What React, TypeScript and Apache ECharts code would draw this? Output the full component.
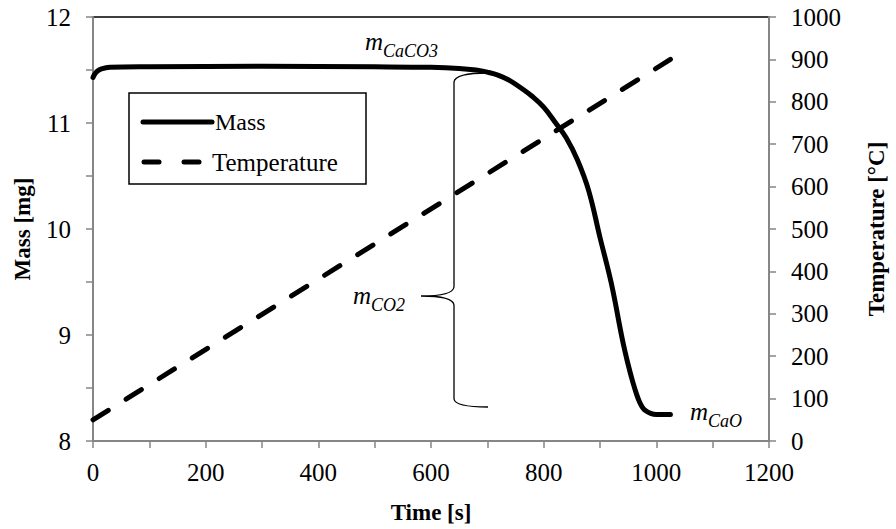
import React, { useEffect, useRef } from "react";
import * as echarts from "echarts";

// Mass curve (time in s, mass in mg)
const massTimes = [0, 3, 8, 15, 30, 100, 300, 500, 600, 650, 680, 700, 720, 740, 760, 780, 800, 820, 840, 860, 880, 900, 920, 940, 950, 958, 965, 970, 975, 980, 990, 1000, 1025];
const massValues = [11.43, 11.46, 11.49, 11.51, 11.525, 11.53, 11.535, 11.53, 11.525, 11.515, 11.5, 11.48, 11.45, 11.4, 11.33, 11.25, 11.15, 11.01, 10.86, 10.65, 10.36, 9.92, 9.49, 8.95, 8.72, 8.56, 8.44, 8.37, 8.32, 8.29, 8.26, 8.25, 8.25];
// Temperature ramp (time in s, temperature in °C)
const tempTimes = [0, 1025];
const tempValues = [50, 900];

const xTitle = "Time [s]";
const yLeftTitle = "Mass [mg]";
const yRightTitle = "Temperature [°C]";
const legendNames = ["Mass", "Temperature"];

const SERIF = "Liberation Serif";
const AXIS_GREY = "#868686";

const bracePath =
  "M 488 73 Q 455 73 454 82 L 454 287 Q 453 296 421 296 Q 453 296 454 305 L 454 399 Q 455 407 488 407";

export default function App() {
  const ref = useRef<HTMLDivElement>(null);
  useEffect(() => {
    if (!ref.current) return;
    try {
      echarts.graphic.registerShape("brace", echarts.graphic.extendPath(bracePath, {}));
    } catch (e) {}
    const chart = echarts.init(ref.current, null, { renderer: "svg" });
    const axisLabel = {
      color: "#000",
      fontSize: 25,
      fontFamily: SERIF,
      formatter: (v: number) => `{a|${v}}`,
      rich: { a: { fontFamily: SERIF, fontSize: 25, color: "#000" } },
    };
    const nameStyle = { color: "#000", fontSize: 23, fontWeight: "bold" as const, fontFamily: SERIF };
    // label "m" + subscript, positioned by baselines
    const sub = (x: number, base: number, s: string) => [
      { type: "text", x, y: base + 6, style: { text: "m", font: `italic 25px ${SERIF}`, fill: "#000", verticalAlign: "bottom" }, z: 101 },
      { type: "text", x: x + 18, y: base + 12, style: { text: s, font: `italic 18px ${SERIF}`, fill: "#000", verticalAlign: "bottom" }, z: 101 },
    ];
    chart.setOption({
      animation: false,
      backgroundColor: "#fff",
      textStyle: { fontFamily: SERIF },
      grid: { left: 93, right: 116, top: 17, bottom: 88, show: true, borderColor: "#000", borderWidth: 1.5, backgroundColor: "transparent" },
      xAxis: {
        type: "value",
        min: 0,
        max: 1200,
        interval: 200,
        name: xTitle,
        nameLocation: "middle",
        nameGap: 60,
        nameTextStyle: nameStyle,
        axisLine: { lineStyle: { color: AXIS_GREY, width: 2 } },
        axisTick: { show: true, length: 7, lineStyle: { color: AXIS_GREY, width: 1.5 } },
        minorTick: { show: true, splitNumber: 2, length: 7, lineStyle: { color: AXIS_GREY, width: 1.5 } },
        splitLine: { show: false },
        axisLabel: { ...axisLabel, margin: 19 },
      },
      yAxis: [
        {
          type: "value",
          min: 8,
          max: 12,
          interval: 1,
          position: "left",
          name: yLeftTitle,
          nameLocation: "middle",
          nameGap: 59,
          nameRotate: 90,
          nameTextStyle: nameStyle,
          axisLine: { show: true, lineStyle: { color: AXIS_GREY, width: 2 } },
          axisTick: { show: true, length: 7, lineStyle: { color: AXIS_GREY, width: 1.5 } },
          minorTick: { show: true, splitNumber: 2, length: 7, lineStyle: { color: AXIS_GREY, width: 1.5 } },
          splitLine: { show: false },
          axisLabel: { ...axisLabel, margin: 22 },
        },
        {
          type: "value",
          min: 0,
          max: 1000,
          interval: 100,
          position: "right",
          name: yRightTitle,
          nameLocation: "middle",
          nameGap: 96,
          nameRotate: 90,
          nameTextStyle: nameStyle,
          axisLine: { show: true, lineStyle: { color: AXIS_GREY, width: 2 } },
          axisTick: { show: true, length: 7, lineStyle: { color: AXIS_GREY, width: 1.5 } },
          splitLine: { show: false },
          axisLabel: { ...axisLabel, margin: 22 },
        },
      ],
      series: [
        {
          name: legendNames[1],
          type: "line",
          yAxisIndex: 1,
          data: tempTimes.map((t, i) => [t, tempValues[i]]),
          showSymbol: false,
          lineStyle: { color: "#000", width: 5, type: [18, 21], cap: "round" },
        },
        {
          name: legendNames[0],
          type: "line",
          yAxisIndex: 0,
          data: massTimes.map((t, i) => [t, massValues[i]]),
          showSymbol: false,
          smooth: 0.4,
          lineStyle: { color: "#000", width: 5, cap: "round", join: "round" },
        },
      ],
      graphic: [
        { type: "rect", shape: { x: 129, y: 93, width: 237, height: 91 }, style: { fill: "#fff", stroke: "#000", lineWidth: 1.5 }, z: 100 },
        { type: "line", shape: { x1: 143, y1: 122, x2: 212, y2: 122 }, style: { stroke: "#000", lineWidth: 5, lineCap: "round" }, z: 101 },
        { type: "text", x: 215, y: 122, style: { text: legendNames[0], font: `24px ${SERIF}`, fill: "#000", verticalAlign: "middle" }, z: 101 },
        { type: "line", shape: { x1: 144, y1: 162, x2: 159, y2: 162 }, style: { stroke: "#000", lineWidth: 5, lineCap: "round" }, z: 101 },
        { type: "line", shape: { x1: 184, y1: 162, x2: 199, y2: 162 }, style: { stroke: "#000", lineWidth: 5, lineCap: "round" }, z: 101 },
        { type: "text", x: 212, y: 162, style: { text: legendNames[1], font: `25px ${SERIF}`, fill: "#000", verticalAlign: "middle" }, z: 101 },
        { type: "brace", x: 0, y: 0, style: { fill: "none", stroke: "#000", lineWidth: 1.3 }, z: 50 },
        ...sub(365, 48, "CaCO3"),
        ...sub(353, 302, "CO2"),
        ...sub(690, 418, "CaO"),
      ],
    });
    return () => chart.dispose();
  }, []);
  return <div ref={ref} style={{ position: "fixed", left: 0, top: 0, width: 896, height: 529 }} />;
}
